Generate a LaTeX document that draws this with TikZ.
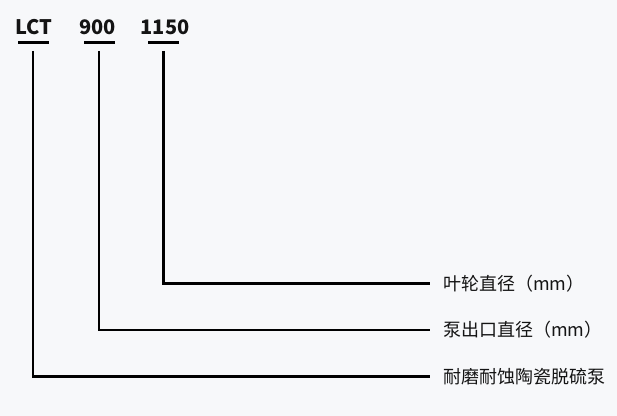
\documentclass[tikz,border=0pt]{standalone}
\usepackage{fontspec}
\setmainfont{Noto Sans CJK SC}
\usepackage{tikz}
\usetikzlibrary{positioning}
\definecolor{pagebg}{RGB}{247,248,250}
\definecolor{inkdark}{RGB}{20,20,20}
\tikzset{
  every node/.style={
    text=inkdark
  },
  code/.style={
    inner sep=0pt,
    font=\fontsize{15pt}{18pt}\selectfont\bfseries
  },
  bar/.style={
    shape=rectangle,
    fill=black,
    inner sep=0pt,
    minimum width=23.25pt,
    minimum height=2pt
  },
  meaning/.style={
    anchor=west,
    inner sep=0pt,
    font=\fontsize{13.5pt}{16pt}\selectfont
  },
  leader/.style={
    draw=black,
    line width=2pt,
    shorten <=5.25pt,
    shorten >=9.75pt
  }
}

\begin{document}
\begin{tikzpicture}[x=0.75pt,y=-0.75pt]

\fill [pagebg] (0,0) rectangle (617,416);
\useasboundingbox (0,0) rectangle (617,416);

% the code, one part after the other
\node [code] (lct) at (34,27.5) {LCT};
\node [code] (dout) at (97.5,27.5) {900};
\node [code] (dimp) at (165,27.5) {1150};

\node [bar] (lctbar) at (33,42.3) {};
\node [bar] (doutbar) at (99,42.3) {};
\node [bar] (dimpbar) at (163.5,42.3) {};

% what each part means
\node [meaning] (dimpname) at (443,283.3) {叶轮直径（mm）};
\node [meaning] (doutname) at (443,330) {泵出口直径（mm）};
\node [meaning] (lctname) at (443,376.5) {耐磨耐蚀陶瓷脱硫泵};

\draw [leader] (dimpbar.south) |- (dimpname.west);
\draw [leader] (doutbar.south) |- (doutname.west);
\draw [leader] (lctbar.south) |- (lctname.west);

\end{tikzpicture}
\end{document}
